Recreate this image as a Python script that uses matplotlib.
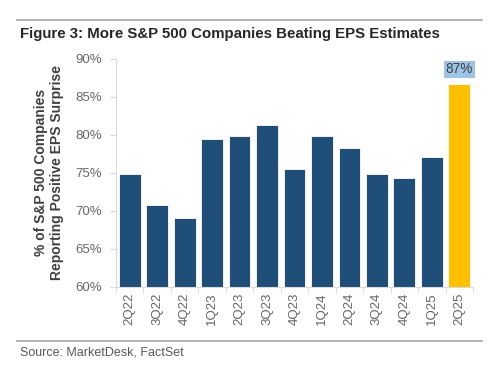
import matplotlib
matplotlib.use("Agg")
import matplotlib.pyplot as plt
import numpy as np
from matplotlib.ticker import FixedLocator

quarters = ["2Q22", "3Q22", "4Q22", "1Q23", "2Q23", "3Q23", "4Q23",
            "1Q24", "2Q24", "3Q24", "4Q24", "1Q25", "2Q25"]
values = [74.9, 70.8, 69.0, 79.4, 79.8, 81.3, 75.5, 79.9, 78.3, 74.8, 74.3, 77.1, 86.7]
last_label = "87%"
yticks = [60, 65, 70, 75, 80, 85, 90]

plt.rcParams['font.family'] = ['Liberation Sans', 'DejaVu Sans']
fig = plt.figure(figsize=(5, 3.65), dpi=100)
ax = fig.add_axes([0.232, 0.214, 0.714, 0.625])

navy = "#1F4E79"
gold = "#FFC000"
colors = [navy] * (len(values) - 1) + [gold]
x = np.arange(len(values))
ax.bar(x, values, width=0.79, color=colors, edgecolor="white", linewidth=0.6, zorder=2)

ax.set_ylim(60, 90)
ax.set_xlim(-0.5, len(values) - 0.5)
ax.set_yticks(yticks)
ax.set_yticklabels([f"{v}%" for v in yticks], fontsize=9.5, color="#666666")
ax.set_xticks(x)
ax.set_xticklabels(quarters, rotation=90, fontsize=9.5, color="#666666")
ax.tick_params(axis='x', length=0, pad=4)
ax.xaxis.set_minor_locator(FixedLocator(np.arange(-0.5, len(values), 1)))
ax.tick_params(axis='x', which='minor', length=4, color="#D9D9D9")
ax.tick_params(axis='y', length=4, color="#D9D9D9", pad=6)
for s in ["top", "right"]:
    ax.spines[s].set_visible(False)
for s in ["left", "bottom"]:
    ax.spines[s].set_color("#D9D9D9")

ax.set_ylabel("% of S&P 500 Companies\nReporting Positive EPS Surprise",
              fontsize=10, fontweight="bold", color="#404040", labelpad=8)

ax.text(x[-1], values[-1] + 1.0, last_label, ha="center", va="bottom",
        fontsize=9.8, color="#404040",
        bbox=dict(boxstyle="square,pad=0.12", facecolor="#9DC3E6", edgecolor="none"))

fig.add_artist(plt.Line2D([0.034, 0.964], [0.945, 0.945], color="#A6A6A6", linewidth=1.2))
fig.text(0.04, 0.908, "Figure 3: More S&P 500 Companies Beating EPS Estimates",
         fontsize=10.85, fontweight="bold", color="#262626", va="center")
fig.add_artist(plt.Line2D([0.034, 0.964], [0.067, 0.067], color="#A6A6A6", linewidth=1.2))
fig.text(0.04, 0.035, "Source: MarketDesk, FactSet", fontsize=9, color="#595959", va="center")

fig.savefig("out.png", dpi=100)
